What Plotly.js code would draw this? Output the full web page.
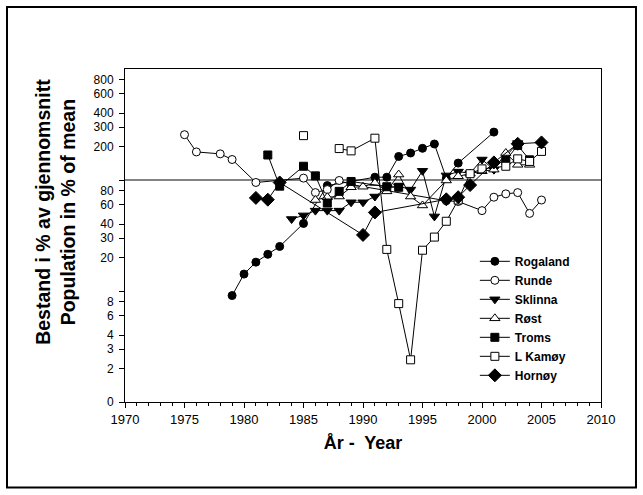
<!DOCTYPE html>
<html>
<head>
<meta charset="utf-8">
<script src="https://cdn.plot.ly/plotly-3.0.1.min.js"></script>
<style>
  html, body { margin: 0; padding: 0; background: #ffffff; }
  #chart { width: 643px; height: 495px; }
</style>
</head>
<body>
<div id="chart"></div>
<script>
// ---- data (population in % of mean) ----
const rogalandYears = [1979,1980,1981,1982,1983,1985,1987,1991,1992,1993,1994,1995,1996,1997,1998,2001];
const rogalandVals  = [9.1,14.2,18.2,21.4,25.2,40.6,89,106,106,163,175,193,211,104,142,270];

const rundeYears = [1975,1976,1978,1979,1981,1985,1986,1987,1988,1989,1997,1998,2000,2001,2002,2003,2004,2005];
const rundeVals  = [256,179,172,153,95,104,77,82,99,91,65,64,53,70,75,77,50,66];

const sklinnaYears = [1984,1985,1986,1987,1988,1989,1990,1991,1992,1993,1994,1995,1996,1997,1998,1999,2000,2001,2003];
const sklinnaVals  = [44.5,48,53,53,53,63,63,71,85,88,82,121,47,110,119,115,153,124,215];

const rostYears = [1986,1987,1988,1989,1990,1991,1992,1993,1994,1995,1997,1998,1999,2000,2001,2002,2003,2004];
const rostVals  = [66,70,71,86,87,94,79,112,71,59,99,108,114,120,124,175,137,137];

const tromsYears = [1982,1983,1985,1986,1987,1988,1989,1992,1993,1997,2002,2003,2004];
const tromsVals  = [168,88,133,109,62,79,97,87,86,null,150,205,152];

const kamoyYears = [1985,1987,1988,1989,1991,1992,1993,1994,1995,1996,1997,1998,1999,2000,2002,2003,2004,2005];
const kamoyVals  = [251,null,192,183,238,23.7,7.7,2.4,23.3,30.6,42.5,66,114,126,133,155,147,181];

const hornoyYears = [1981,1982,1983,1990,1991,1997,1998,1999,2001,2003,2005];
const hornoyVals  = [69,66.5,95,32,51,67,70,90,144,212,218];

const meanLevel = 100;
const xRange = [1970, 2010];

const yTickVals = [1,2,3,4,6,8,10,20,30,40,60,80,100,200,300,400,600,800];
const yTickText = ["0","2","3","4","6","8","","20","30","40","60","80","","200","300","400","600","800"];

const yTitle = "Bestand i % av gjennomsnitt<br>Population in % of mean";
const xTitle = "År -  Year";

const FONT = "Arial, 'Liberation Sans', sans-serif";

function series(name, xs, ys, symbol, fill, size) {
  return {
    type: "scatter", mode: "lines+markers", name: name,
    x: xs, y: ys, connectgaps: false,
    line: { color: "#000000", width: 1 },
    marker: {
      symbol: symbol, size: size,
      color: fill ? "#000000" : "#ffffff",
      line: { color: "#000000", width: 1 }
    }
  };
}

const traces = [
  {
    type: "scatter", mode: "lines", x: xRange, y: [meanLevel, meanLevel],
    line: { color: "#5a5a5a", width: 1.6 }, showlegend: false, hoverinfo: "skip"
  },
  series("Rogaland", rogalandYears, rogalandVals, "circle", true, 8),
  series("Runde", rundeYears, rundeVals, "circle", false, 8),
  series("Sklinna", sklinnaYears, sklinnaVals, "triangle-down", true, 9),
  series("Røst", rostYears, rostVals, "triangle-up", false, 9),
  series("Troms", tromsYears, tromsVals, "square", true, 8),
  series("L Kamøy", kamoyYears, kamoyVals, "square", false, 8),
  series("Hornøy", hornoyYears, hornoyVals, "diamond", true, 10)
];

const layout = {
  width: 643, height: 495,
  margin: { l: 125, r: 42, t: 69, b: 93, pad: 0 },
  paper_bgcolor: "#ffffff", plot_bgcolor: "#ffffff",
  font: { family: FONT, color: "#000000", size: 12 },
  showlegend: true,
  legend: {
    x: 0.735, y: 0.466, xanchor: "left", yanchor: "top",
    bgcolor: "rgba(0,0,0,0)", borderwidth: 0,
    font: { family: FONT, size: 12, weight: "bold", color: "#000000" },
    tracegroupgap: 0, itemwidth: 30
  },
  xaxis: {
    range: xRange, dtick: 5, tick0: 1970,
    showline: true, linecolor: "#000000", linewidth: 1, mirror: true,
    ticks: "outside", ticklen: 5, tickcolor: "#000000",
    minor: { dtick: 1, ticks: "outside", ticklen: 3, tickcolor: "#000000", showgrid: false },
    showgrid: false, zeroline: false,
    tickfont: { family: FONT, size: 13, color: "#000000" },
    title: { text: xTitle, font: { family: FONT, size: 18, weight: "bold", color: "#000000" }, standoff: 10 }
  },
  yaxis: {
    type: "log", range: [0, 3],
    tickmode: "array", tickvals: yTickVals, ticktext: yTickText,
    showline: true, linecolor: "#000000", linewidth: 1, mirror: true,
    ticks: "outside", ticklen: 5, tickcolor: "#000000", ticklabelstandoff: 3,
    showgrid: false, zeroline: false,
    tickfont: { family: FONT, size: 12, color: "#000000" }
  },
  annotations: [{
    text: yTitle, xref: "paper", yref: "paper",
    x: -0.145, y: 0.571, xanchor: "center", yanchor: "middle",
    textangle: -90, showarrow: false,
    font: { family: FONT, size: 19.5, weight: "bold", color: "#000000" }
  }],
  shapes: [{
    type: "rect", xref: "paper", yref: "paper",
    x0: -0.2479, x1: 1.0735, y0: -0.257, y1: 1.186,
    line: { color: "#000000", width: 2 }, fillcolor: "rgba(0,0,0,0)", layer: "above"
  }]
};

Plotly.newPlot("chart", traces, layout, { displayModeBar: false, staticPlot: true });
</script>
</body>
</html>
